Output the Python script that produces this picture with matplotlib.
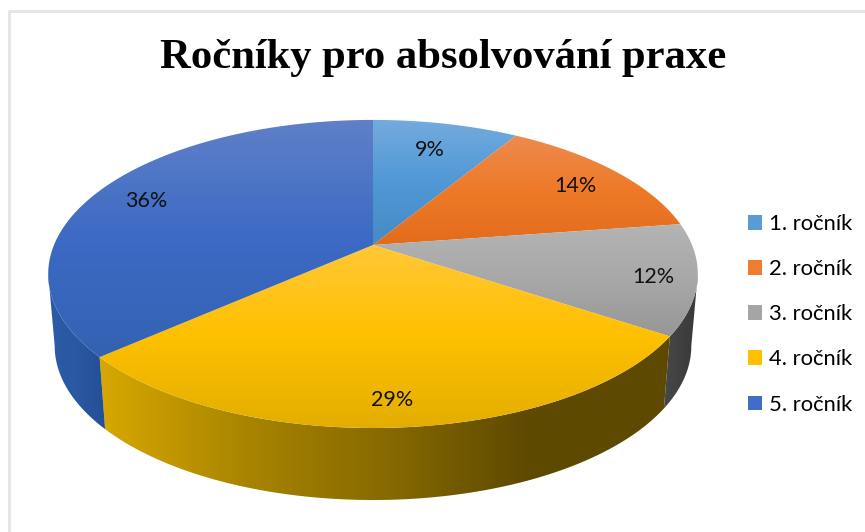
import numpy as np
import matplotlib
matplotlib.use('Agg')
import matplotlib.pyplot as plt
from matplotlib.colors import LinearSegmentedColormap
from matplotlib.patches import Patch, Polygon

# Donnees du graphique
categories = ['1. ročník', '2. ročník', '3. ročník', '4. ročník', '5. ročník']
valeurs = [8.7, 14.0, 11.6, 29.21, 36.49]
titre = 'Ročníky pro absolvování praxe'

# Couleurs
base = ['#5B9BD5', '#ED7D31', '#A5A5A5', '#FFC000', '#3F6EC4']
haut = ['#74ABDD', '#EE8A50', '#B4B4B4', '#FFC838', '#6080C8']
milieu = ['#5098D6', '#EE7A28', '#A8A8A8', '#FFC000', '#3C6AC4']
bas = ['#458BC4', '#E36C1C', '#979797', '#E3AE00', '#3462B2']
cotes = [
    ['#3A6C99', '#3A6C99'],
    ['#A0511C', '#A0511C'],
    ['#484848', '#383838'],
    ['#D8A800', '#A98500', '#876A00', '#5E4900', '#5E4900'],
    ['#2C5CA8', '#2A58A2', '#234F94'],
]

# Geometrie de la perspective (en pixels)
cx, cy = 373, 245
a, b, k = 319, 148.6, 0.188
epaisseur = 72
retrait = 0.98
pos_labels = [(430, 150), (575, 186), (653, 277), (392, 400), (146, 201)]


def projette(theta, bord=False):
    xd, yd = np.sin(theta), np.cos(theta)
    w = 1 + k * yd
    x, y = a * xd / w, -b * yd / w
    if bord:
        return cx + retrait * x, cy + y + epaisseur
    return cx + x, cy + y


def degrade(ax, couleurs, poly, horizontal, z):
    xmin, ymin = poly.min(axis=0)
    xmax, ymax = poly.max(axis=0)
    cmap = LinearSegmentedColormap.from_list('d', couleurs)
    t = np.linspace(0, 1, 256)
    grille = t[None, :] if horizontal else t[:, None]
    im = ax.imshow(grille, cmap=cmap, extent=(xmin, xmax, ymax, ymin), origin='upper',
                   aspect='auto', interpolation='bilinear', zorder=z)
    patch = Polygon(poly, closed=True, transform=ax.transData, fc='none', ec='none')
    ax.add_patch(patch)
    im.set_clip_path(patch)


fig = plt.figure(figsize=(8.65, 5.32), dpi=100)
ax = fig.add_axes([0, 0, 1, 1])

# cadre gris clair
ax.plot([9, 9, 865], [532, 11, 11], color='#E6E6E6', lw=2.2, zorder=1)

# angles a partir des pourcentages
cumul = np.cumsum([0] + valeurs) / sum(valeurs) * 2 * np.pi

# cotes : seulement la partie visible, entre les deux points extremes de l'ellipse
th_min = np.arccos(-k)
th_max = 2 * np.pi - th_min
for i in range(5):
    debut, fin = max(cumul[i], th_min), min(cumul[i + 1], th_max)
    if fin <= debut:
        continue
    th = np.linspace(debut, fin, 200)
    x1, y1 = projette(th)
    x2, y2 = projette(th, True)
    poly = np.column_stack([np.r_[x1, x2[::-1]], np.r_[y1, y2[::-1]]])
    degrade(ax, cotes[i], poly, True, 3 + i)

# dessus
for i in range(5):
    th = np.linspace(cumul[i], cumul[i + 1], 200)
    x1, y1 = projette(th)
    poly = np.column_stack([np.r_[cx, x1], np.r_[cy, y1]])
    degrade(ax, [haut[i], milieu[i], bas[i]], poly, False, 20)

for i in range(5):
    ax.text(pos_labels[i][0], pos_labels[i][1], '%d%%' % round(valeurs[i]), ha='center', va='center',
            fontsize=15.5, family='Lato', color='#111111', zorder=30)

ax.text(443, 58, titre, ha='center', va='center', fontsize=30.7, fontweight='bold',
        family='Liberation Serif', color='black', zorder=30)

ax.set_xlim(0, 865)
ax.set_ylim(532, 0)
ax.axis('off')

handles = [Patch(facecolor=c, edgecolor='none') for c in base]
ax.legend(handles, categories, loc='upper left', bbox_to_anchor=(748 / 865, 1 - 214 / 532),
          frameon=False, prop={'family': 'Lato', 'size': 15.8}, handlelength=0.64, handleheight=0.64,
          handletextpad=0.3, labelspacing=1.145, borderpad=0, borderaxespad=0)

fig.savefig('out.png', dpi=100)
